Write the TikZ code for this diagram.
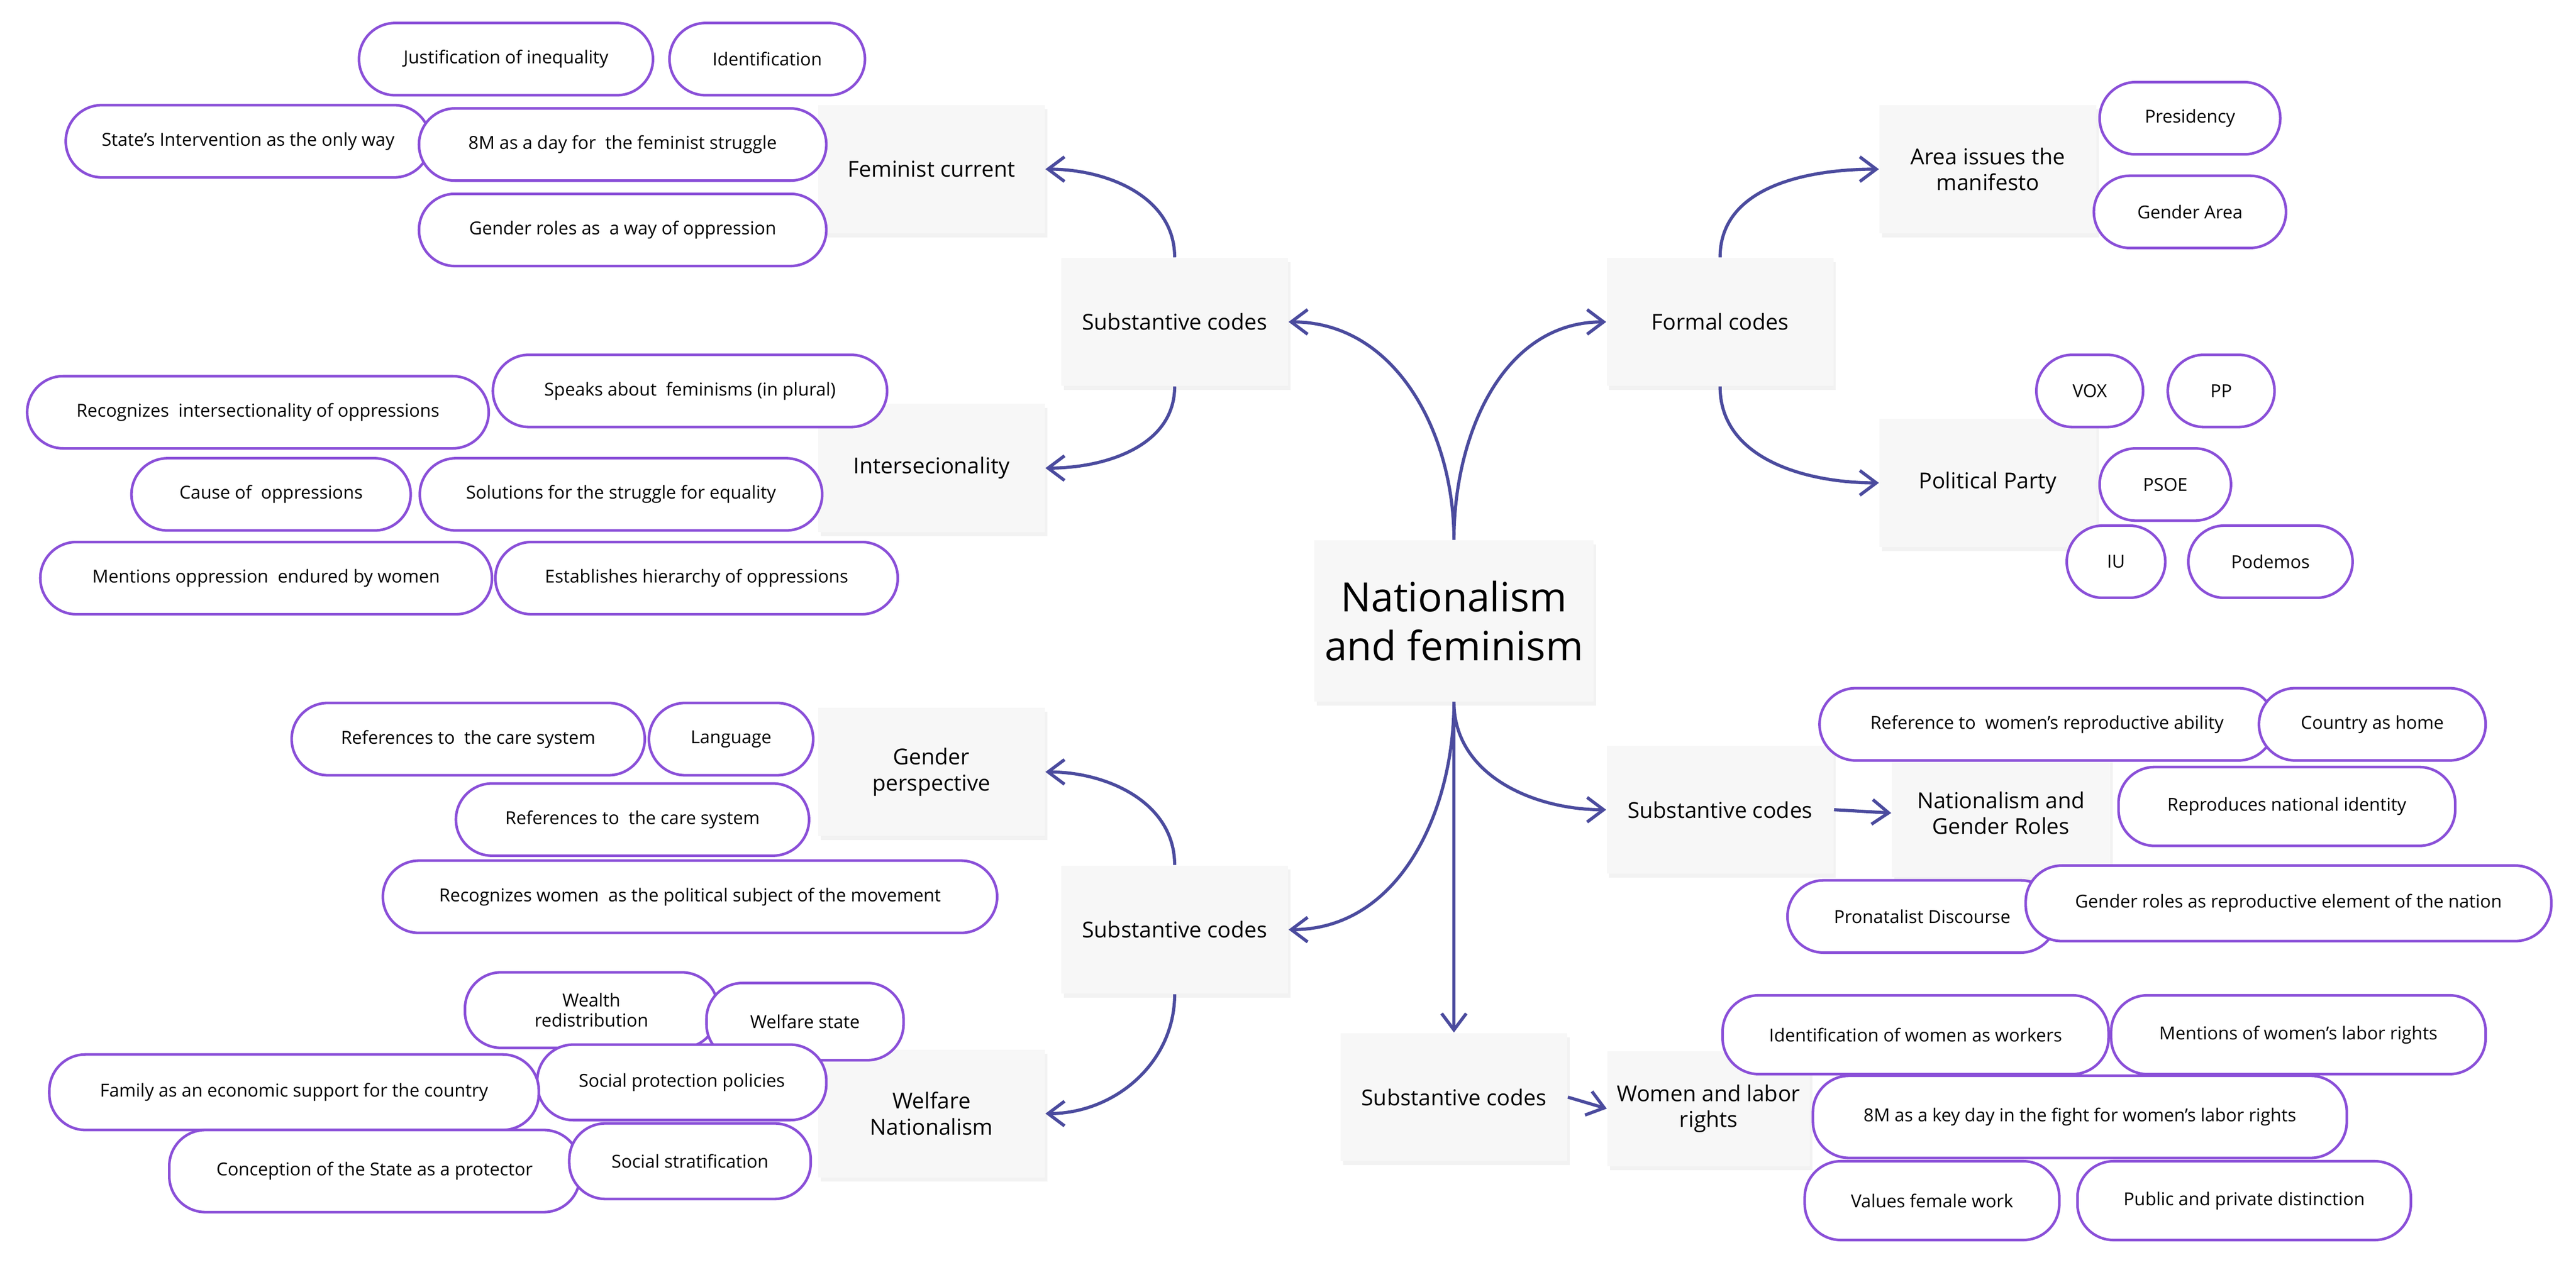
\documentclass[tikz,border=0pt]{standalone}
\usepackage{fontspec}
\setmainfont{Open Sans}
\usetikzlibrary{positioning,arrows.meta,shadows}
\definecolor{pillc}{HTML}{8A4FD8}
\definecolor{arrc}{HTML}{4B4B9E}
\tikzset{
  box/.style={fill=black!3, minimum width=2.76cm, minimum height=1.56cm, align=center,
    font=\fontsize{7.6}{9}\selectfont,
    drop shadow={opacity=0.1, shadow xshift=0.03cm, shadow yshift=-0.05cm}},
  pill/.style={draw=pillc, line width=0.9pt, fill=white, rounded corners=0.44cm,
    minimum height=0.88cm, align=center, font=\fontsize{6.2}{7}\selectfont},
  link/.style={draw=arrc, line width=1.1pt, -{Straight Barb[length=2mm,width=3mm]}}
}
\begin{document}
\begin{tikzpicture}[x=0.02cm, y=-0.02cm]
  \useasboundingbox (0,0) rectangle (1568,770);

  %Boxes
  \node[box, minimum width=3.4cm, minimum height=1.96cm, font=\fontsize{14}{17}\selectfont] (ctr) at (885,378) {Nationalism\\and feminism};
  \node[box] (fem) at (567,103) {Feminist current};
  \node[box] (subA) at (715,196) {Substantive codes};
  \node[box] (inter) at (567,285) {Intersecionality};
  \node[box] (form) at (1047,196) {Formal codes};
  \node[box, minimum width=2.64cm] (area) at (1210,103) {Area issues the\\manifesto};
  \node[box, minimum width=2.64cm] (party) at (1210,294) {Political Party};
  \node[box] (gend) at (567,470) {Gender\\perspective};
  \node[box] (subB) at (715,566) {Substantive codes};
  \node[box] (welf) at (567,678) {Welfare\\Nationalism};
  \node[box] (subC) at (1047,493) {Substantive codes};
  \node[box, minimum width=2.66cm] (ngr) at (1218,495) {Nationalism and\\Gender Roles};
  \node[box] (subD) at (885,668) {Substantive codes};
  \node[box, minimum width=2.3cm, minimum height=1.4cm] (labor) at (1040,675) {Women and labor\\rights};

  %Pills
  \node[pill, minimum width=3.58cm] (p1) at (308,36) {Justification of inequality};
  \node[pill, minimum width=2.38cm] (p2) at (467,36) {Identification};
  \node[pill, minimum width=4.44cm] (p3) at (151,86) {State's Intervention as the only way};
  \node[pill, minimum width=4.96cm] (p4) at (379,88) {8M as a day for \ the feminist struggle};
  \node[pill, minimum width=4.96cm] (p5) at (379,140) {Gender roles as \ a way of oppression};
  \node[pill, minimum width=4.8cm] (p6) at (420,238) {Speaks about \ feminisms (in plural)};
  \node[pill, minimum width=5.62cm] (p7) at (157,251) {Recognizes \ intersectionality of oppressions};
  \node[pill, minimum width=3.4cm] (p8) at (165,301) {Cause of \ oppressions};
  \node[pill, minimum width=4.9cm] (p9) at (378,301) {Solutions for the struggle for equality};
  \node[pill, minimum width=5.5cm] (p10) at (162,352) {Mentions oppression \ endured by women};
  \node[pill, minimum width=4.9cm] (p11) at (424,352) {Establishes hierarchy of oppressions};
  \node[pill, minimum width=2.2cm] (p12) at (1333,72) {Presidency};
  \node[pill, minimum width=2.34cm] (p13) at (1333,129) {Gender Area};
  \node[pill, minimum width=1.3cm] (p14) at (1272,238) {VOX};
  \node[pill, minimum width=1.3cm] (p15) at (1352,238) {PP};
  \node[pill, minimum width=1.6cm] (p16) at (1318,295) {PSOE};
  \node[pill, minimum width=1.2cm] (p17) at (1288,342) {IU};
  \node[pill, minimum width=2cm] (p18) at (1382,342) {Podemos};
  \node[pill, minimum width=4.3cm] (p19) at (285,450) {References to \ the care system};
  \node[pill, minimum width=2cm] (p20) at (445,450) {Language};
  \node[pill, minimum width=4.3cm] (p21) at (385,499) {References to \ the care system};
  \node[pill, minimum width=7.48cm] (p22) at (420,546) {Recognizes women \ as the political subject of the movement};
  \node[pill, minimum width=3.08cm, minimum height=0.92cm] (p23) at (360,615) {Wealth\\redistribution};
  \node[pill, minimum width=2.4cm, minimum height=0.94cm] (p24) at (490,622) {Welfare state};
  \node[pill, minimum width=3.52cm, minimum height=0.92cm] (p25) at (415,659) {Social protection policies};
  \node[pill, minimum width=5.96cm, minimum height=0.92cm] (p26) at (179,665) {Family as an economic support for the country};
  \node[pill, minimum width=5cm, minimum height=1cm] (p27) at (228,713) {Conception of the State as a protector};
  \node[pill, minimum width=2.94cm, minimum height=0.92cm] (p28) at (420,707) {Social stratification};
  \node[pill, minimum width=5.54cm] (p29) at (1246,441) {Reference to \ women's reproductive ability};
  \node[pill, minimum width=2.76cm] (p30) at (1444,441) {Country as home};
  \node[pill, minimum width=4.1cm, minimum height=0.96cm] (p31) at (1392,491) {Reproduces national identity};
  \node[pill, minimum width=3.28cm] (p32) at (1170,558) {Pronatalist Discourse};
  \node[pill, minimum width=6.4cm, minimum height=0.92cm] (p33) at (1393,550) {Gender roles as reproductive element of the nation};
  \node[pill, minimum width=4.7cm, minimum height=0.96cm] (p34) at (1166,630) {Identification of women as workers};
  \node[pill, minimum width=4.56cm, minimum height=0.96cm] (p35) at (1399,630) {Mentions of women's labor rights};
  \node[pill, minimum width=6.5cm, minimum height=1cm] (p36) at (1266,680) {8M as a key day in the fight for women's labor rights};
  \node[pill, minimum width=3.1cm, minimum height=0.96cm] (p37) at (1176,731) {Values female work};
  \node[pill, minimum width=4.06cm, minimum height=0.96cm] (p38) at (1366,731) {Public and private distinction};

  %Arrows
  \draw[link] (ctr.north) to[out=90, in=0] (subA.east);
  \draw[link] (ctr.north) to[out=90, in=180] (form.west);
  \draw[link] (ctr.south) to[out=-90, in=0] (subB.east);
  \draw[link] (ctr.south) -- (subD.north);
  \draw[link] (ctr.south) to[out=-90, in=180] (subC.west);
  \draw[link] (subA.north) to[out=90, in=0] (fem.east);
  \draw[link] (subA.south) to[out=-90, in=0] (inter.east);
  \draw[link] (form.north) to[out=90, in=180] (area.west);
  \draw[link] (form.south) to[out=-90, in=180] (party.west);
  \draw[link] (subB.north) to[out=90, in=0] (gend.east);
  \draw[link] (subB.south) to[out=-90, in=0] (welf.east);
  \draw[link] (subC.east) -- (ngr.west);
  \draw[link] (subD.east) -- (labor.west);
\end{tikzpicture}
\end{document}
